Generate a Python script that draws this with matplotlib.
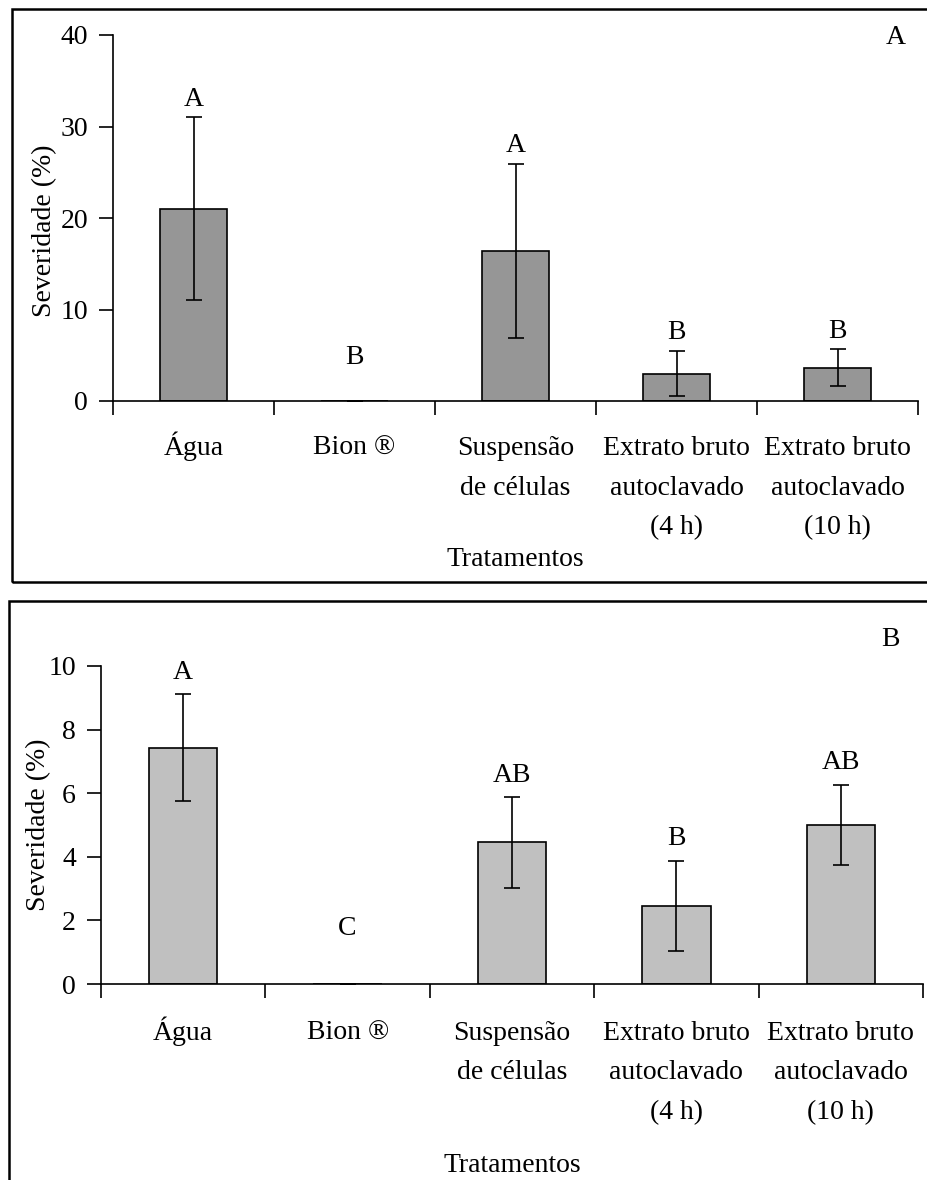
import matplotlib
matplotlib.use('Agg')
import matplotlib.pyplot as plt
from matplotlib.patches import Rectangle
import numpy as np

plt.rcParams['font.family'] = ['Liberation Serif', 'DejaVu Serif']

# tratamentos (eixo x)
tratamentos = ['Água', 'Bion ®', 'Suspensão\nde células',
               'Extrato bruto\nautoclavado\n(4 h)', 'Extrato bruto\nautoclavado\n(10 h)']

# painel A
sev_a = [21.0, 0.0, 16.4, 3.0, 3.65]
erro_a = [10.0, 0.0, 9.5, 2.5, 2.0]
letras_a = ['A', 'B', 'A', 'B', 'B']

# painel B
sev_b = [7.43, 0.0, 4.45, 2.46, 5.01]
erro_b = [1.68, 0.0, 1.42, 1.41, 1.26]
letras_b = ['A', 'C', 'AB', 'B', 'AB']

W, H = 927, 1180
fig = plt.figure(figsize=(W / 100, H / 100), dpi=100)

# molduras dos dois graficos (cortadas na direita como no original)
fig.patches.append(Rectangle((12 / W, 1 - 582 / H), 1.0, 573 / H, transform=fig.transFigure,
                             fill=False, edgecolor='black', lw=1.8))
fig.patches.append(Rectangle((9 / W, -0.05), 1.0, 0.05 + 1 - 601 / H, transform=fig.transFigure,
                             fill=False, edgecolor='black', lw=1.8))


def painel(ax, sev, erro, letras, cor, ymax, passo, pad, piso, ylab_x, ylab_y, xlab_y, off_rot):
    x = np.arange(len(sev))
    ax.bar(x, sev, width=0.415, color=cor, edgecolor='black', linewidth=1.2, zorder=2)
    ax.errorbar(x, sev, yerr=erro, fmt='none', ecolor='black', elinewidth=1.2,
                capsize=5.5, capthick=1.2, zorder=3)
    for xi, v, e, l in zip(x, sev, erro, letras):
        ax.text(xi, max(v + e, piso) + pad, l, ha='center', va='center', fontsize=20,
                clip_on=False)
    ax.set_xlim(-0.5, len(sev) - 0.5)
    ax.set_ylim(0, ymax)
    ax.set_yticks(np.arange(0, ymax + passo / 2, passo))
    ax.set_xticks(np.arange(-0.5, len(sev), 1.0))
    ax.set_xticklabels([])
    # rotulos das categorias, uma linha de cada vez pela linha de base
    for xi, t in zip(x, tratamentos):
        for i, linha in enumerate(t.split('\n')):
            ax.annotate(linha, xy=(xi, 0), xycoords=('data', 'axes fraction'),
                        xytext=(0, -(off_rot + i * 28.6)), textcoords='offset points',
                        ha='center', va='baseline', fontsize=20)
    ax.tick_params(axis='x', which='major', direction='out', length=10, width=1.2)
    ax.tick_params(axis='y', direction='out', length=10, width=1.2, labelsize=20, pad=8)
    for s in ['top', 'right']:
        ax.spines[s].set_visible(False)
    for s in ['left', 'bottom']:
        ax.spines[s].set_linewidth(1.2)
    ax.set_ylabel('Severidade (%)', fontsize=20)
    ax.yaxis.set_label_coords(ylab_x, ylab_y)
    ax.set_xlabel('Tratamentos', fontsize=20)
    ax.xaxis.set_label_coords(0.5, xlab_y)


ax1 = fig.add_axes([113 / W, 1 - 401 / H, 805 / W, 366 / H])
painel(ax1, sev_a, erro_a, letras_a, '#969696', 40, 10, 2.0, 2.8, -0.070, 0.464, -146 / 366, 39)
fig.text(896 / W, 1 - 37 / H, 'A', ha='center', va='center', fontsize=20)

ax2 = fig.add_axes([101 / W, 1 - 984 / H, 822 / W, 318 / H])
painel(ax2, sev_b, erro_b, letras_b, '#C0C0C0', 10, 2, 0.7, 1.05, -0.061, 0.5, -169 / 318, 40)
fig.text(890 / W, 1 - 640 / H, 'B', ha='center', va='center', fontsize=20)

fig.savefig('out.png', dpi=100)
